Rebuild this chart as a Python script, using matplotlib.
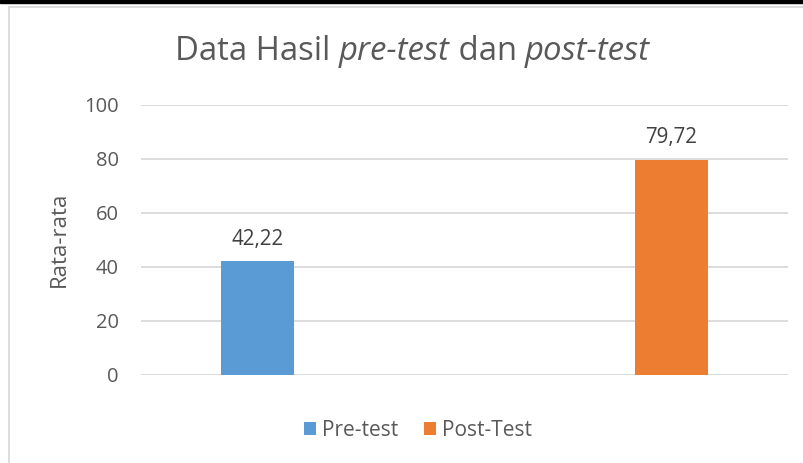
import matplotlib
matplotlib.use("Agg")
import matplotlib.pyplot as plt
from matplotlib.patches import Rectangle
from matplotlib.lines import Line2D

categories = ["Pre-test", "Post-Test"]
values = [42.22, 79.72]
value_labels = ["42,22", "79,72"]
colors = ["#5B9BD5", "#ED7D31"]
yticks = [0, 20, 40, 60, 80, 100]
ytick_labels = ["0", "20", "40", "60", "80", "100"]
title_parts = [("Data Hasil ", "normal"), ("pre-test", "italic"), (" dan ", "normal"), ("post-test", "italic")]
ylabel = "Rata-rata"

plt.rcParams['font.family'] = ['Open Sans', 'DejaVu Sans']
TXT = "#595959"

fig = plt.figure(figsize=(8.04, 4.63), dpi=100)
W, H = 804, 463
ax = fig.add_axes([141 / W, 1 - 374.5 / H, (788 - 141) / W, (374.5 - 105) / H])

bw = 0.215
offsets = [-bw / 2, bw / 2]
for i, (v, c) in enumerate(zip(values, colors)):
    x = i + offsets[i]
    ax.bar(x, v, width=bw, color=c, label=categories[i], zorder=3)
    ax.text(x, v + 6, value_labels[i], ha="center", va="baseline", fontsize=14.8, color="#404040")

ax.set_xlim(-0.45, 1.45)
ax.set_ylim(0, 100)
ax.set_yticks(yticks)
ax.set_yticklabels(ytick_labels, fontsize=14.5, color=TXT)
ax.set_xticks([])
ax.tick_params(axis="y", length=0, pad=16)
ax.grid(axis="y", color="#D9D9D9", linewidth=1.3, zorder=0)
for s in ax.spines.values():
    s.set_visible(False)
ax.set_ylabel(ylabel, fontsize=16, color=TXT)
ax.yaxis.set_label_coords(-(141 - 70) / 647, 0.5)

leg = fig.legend(loc="center", bbox_to_anchor=(418 / W, 1 - 430 / H), ncol=2, frameon=False,
                 fontsize=15, handlelength=0.6, handleheight=0.6, handletextpad=0.3,
                 columnspacing=1.2, labelcolor=TXT)

# title with mixed italic
fig.canvas.draw()
r = fig.canvas.get_renderer()
fs = 21
texts = []
for s, st in title_parts:
    t = fig.text(0, 1 - 60 / H, s, fontsize=fs, style=st, color=TXT, va="baseline", ha="left")
    texts.append(t)
widths = [t.get_window_extent(r).width for t in texts]
scale = 475 / sum(widths)
for t in texts:
    t.set_fontsize(fs * scale)
widths = [t.get_window_extent(r).width for t in texts]
x0 = 412.5 - sum(widths) / 2
for t, w in zip(texts, widths):
    t.set_x(x0 / W)
    x0 += w

# chart border and top band
fig.add_artist(Line2D([9 / W, 9 / W], [0, 1 - 7 / H], color="#D9D9D9", linewidth=1.3))
fig.add_artist(Line2D([9 / W, 1], [1 - 7 / H, 1 - 7 / H], color="#D9D9D9", linewidth=1.3))
fig.add_artist(Rectangle((0, 1 - 3 / H), 1, 3 / H, color="black", transform=fig.transFigure))

fig.savefig("out.png", dpi=100)
